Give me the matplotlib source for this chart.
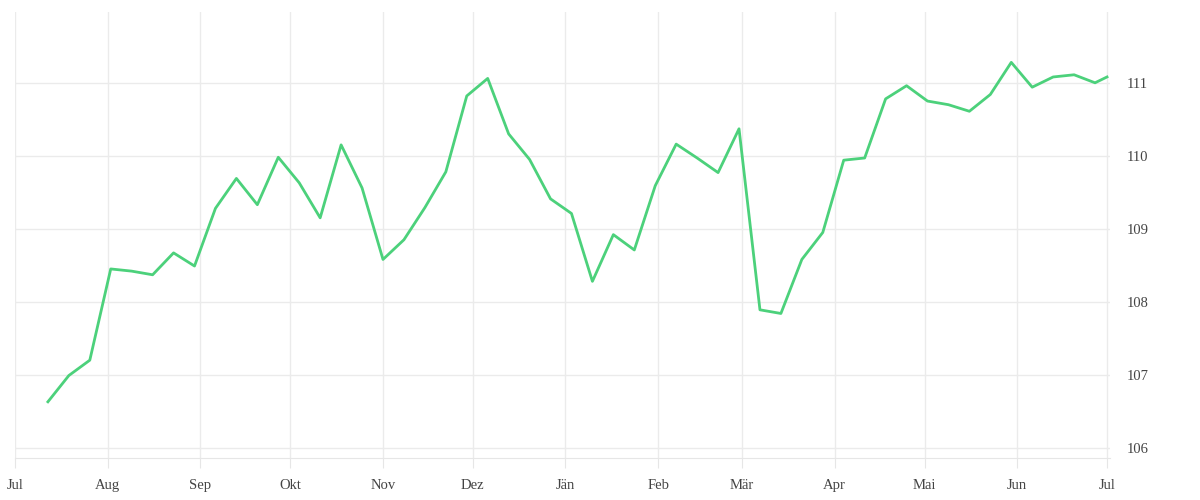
import pandas as pd
import numpy as np
import matplotlib.pyplot as plt
import matplotlib.dates as mdates

# =========================
# DATA
# =========================

values = [
    106.63, 106.99, 107.20, 108.45, 108.42, 108.37, 108.67, 108.49,
    109.28, 109.69, 109.33, 109.98, 109.63, 109.15, 110.15, 109.56,
    108.58, 108.85, 109.29, 109.78, 110.82, 111.06, 110.30, 109.95,
    109.41, 109.21, 108.28, 108.92, 108.71, 109.59, 110.16, 109.97,
    109.77, 110.37, 107.89, 107.84, 108.58, 108.95, 109.94, 109.97,
    110.78, 110.96, 110.75, 110.70, 110.61, 110.84, 111.28, 110.94,
    111.08, 111.11, 111.00, 111.08
]

dates = list(pd.date_range("2024-07-12", periods=len(values) - 1, freq="7D"))
dates.append(pd.Timestamp("2025-07-01"))

month_labels = ["Jul", "Aug", "Sep", "Okt", "Nov", "Dez", "Jän",
                "Feb", "Mär", "Apr", "Mai", "Jun", "Jul"]
month_ticks = pd.date_range("2024-07-01", "2025-07-01", freq="MS")

y_ticks = [106, 107, 108, 109, 110, 111]

# =========================
# PLOT
# =========================

plt.rcParams["font.family"] = ["Liberation Serif", "DejaVu Serif"]

fig = plt.figure(figsize=(12, 5), dpi=100)
ax = fig.add_axes([0.0125, 0.084, 0.9125, 0.892])

ax.plot(dates, values, color="#4cd17b", linewidth=2.0, zorder=3)

ax.set_xlim(pd.Timestamp("2024-07-01"), pd.Timestamp("2025-07-02"))
ax.set_ylim(105.86, 111.97)

ax.set_xticks(month_ticks)
ax.set_xticklabels(month_labels)
ax.set_yticks(y_ticks)

ax.yaxis.tick_right()
ax.grid(True, color="#ebebeb", linewidth=1)
ax.set_axisbelow(True)

for side in ["top", "left", "right"]:
    ax.spines[side].set_visible(False)
ax.spines["bottom"].set_color("#e6e6e6")

ax.tick_params(axis="x", length=7, color="#e6e6e6", labelsize=10.5,
               labelcolor="#444444", pad=8)
ax.tick_params(axis="y", length=0, labelsize=10.5, labelcolor="#444444",
               pad=12)

# y labels sit a touch below their grid lines
for lbl in ax.get_yticklabels():
    lbl.set_verticalalignment("center_baseline")

fig.savefig("out.png", dpi=100)
